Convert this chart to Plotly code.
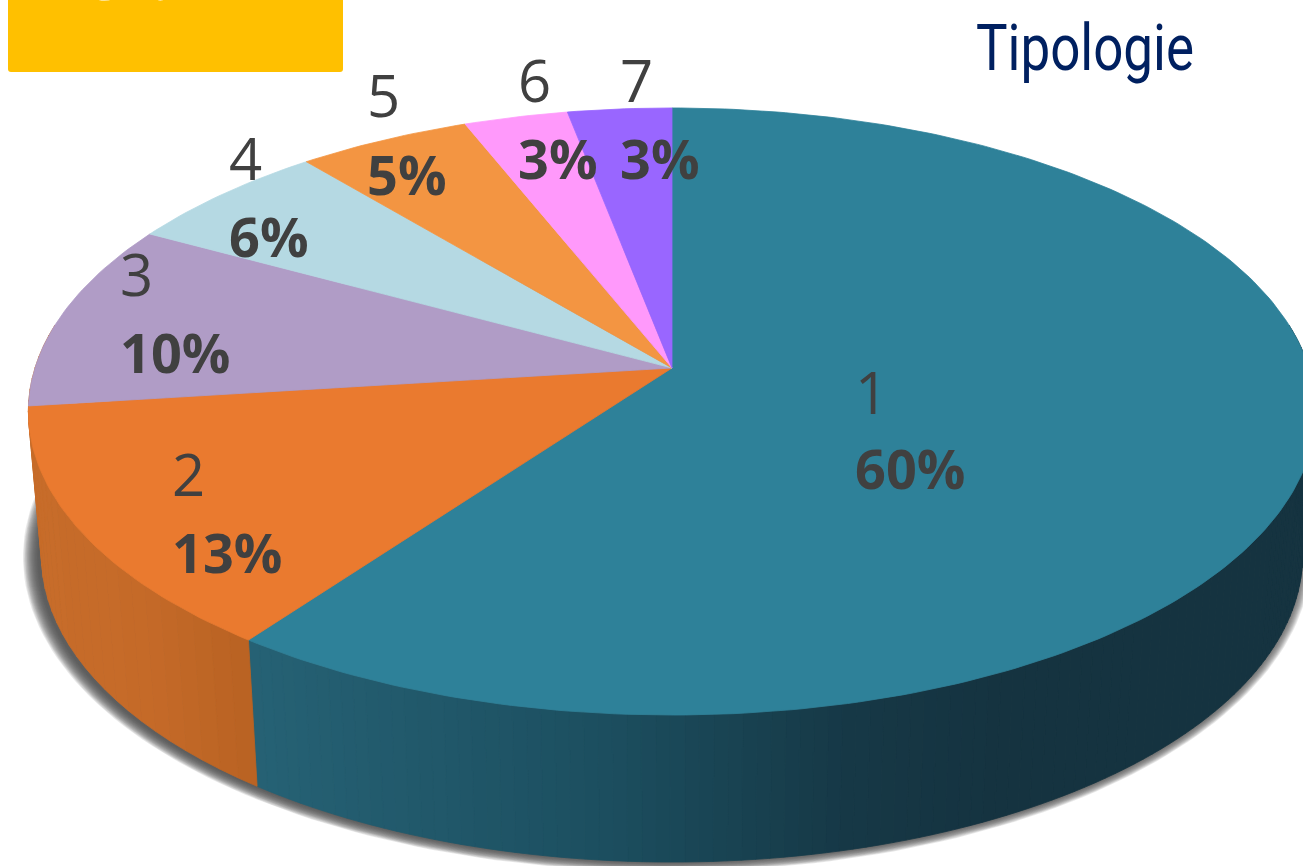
import numpy as np
import plotly.graph_objects as go

categories = ["1", "2", "3", "4", "5", "6", "7"]
values = [60, 13, 10, 6, 5, 3, 3]
top_colors = ["#2E8199", "#EA7A2F", "#B09CC6", "#B5D9E3", "#F39542", "#FF99FB", "#9966FF"]

title_text = "Tipologie"
badge_text = "25/04/22"

# label placement (left edge, centre of name line, centre of percent line)
label_x = [853, 170, 118, 227, 365, 516, 618]
name_y = [391, 473, 273, 157, 94, 79, 79]
pct_y = [468, 552, 352, 236, 174, 158, 158]

W, H = 1303, 866
K = 0.1433
TOP = dict(cx=672, apex=368, a=637, b=297.3)
LOW = dict(cx=672, apex=511.5, a=624, b=300.3)


def project(frac, g):
    t = np.asarray(frac) * 2 * np.pi
    u, v = np.sin(t), np.cos(t)
    w = 1 + K * v
    return g["cx"] + g["a"] * u / w, g["apex"] - g["b"] * v / w


def lerp_hex(stops, x):
    xs = [s[0] for s in stops]
    rgb = [np.interp(x, xs, [s[1][i] for s in stops]) for i in range(3)]
    return "rgb(%d,%d,%d)" % tuple(round(c) for c in rgb)


TEAL_SIDE = [(247, (38, 98, 117)), (600, (28, 79, 96)), (850, (22, 56, 70)), (1000, (21, 51, 64)), (1303, (21, 51, 64))]
ORANGE_SIDE = [(30, (199, 108, 42)), (150, (197, 106, 40)), (257, (184, 98, 34))]

fig = go.Figure()


def poly(xs, ys, fill, line=None, lw=0.8):
    fig.add_trace(go.Scatter(
        x=list(xs), y=list(ys), mode="lines", fill="toself", fillcolor=fill,
        line=dict(color=line or fill, width=lw), hoverinfo="skip", showlegend=False))


# drop shadow of the lower rim: soft edge built from thin translucent layers
theta = np.linspace(0, 2 * np.pi, 240)
for d in range(15, -1, -1):
    poly(667 + (629 + d) * np.cos(theta), 557 + (304 + d * 0.7) * np.sin(theta),
         "rgba(80,80,80,0.13)", "rgba(0,0,0,0)", 0)

# side wall
frac_edges = np.cumsum([0] + values) / sum(values)
right_limit = 81.5 / 360
left_limit = 278.5 / 360


def wall(f0, f1, stops, n):
    fs = np.linspace(f0, f1, n + 1)
    for a, b in zip(fs[:-1], fs[1:]):
        ff = np.linspace(a, b, 4)
        xt, yt = project(ff, TOP)
        xl, yl = project(ff, LOW)
        xs = np.concatenate([xt, xl[::-1], xt[:1]])
        ys = np.concatenate([yt, yl[::-1], yt[:1]])
        poly(xs, ys, lerp_hex(stops, float(xs.mean())))


wall(right_limit, frac_edges[1], TEAL_SIDE, 120)
wall(frac_edges[1], left_limit, ORANGE_SIDE, 30)

# top faces
for i, col in enumerate(top_colors):
    ff = np.linspace(frac_edges[i], frac_edges[i + 1], max(int(values[i] * 4), 12))
    xr, yr = project(ff, TOP)
    poly(np.concatenate([[TOP["cx"]], xr, [TOP["cx"]]]),
         np.concatenate([[TOP["apex"]], yr, [TOP["apex"]]]), col)

ann = []
for i, cat in enumerate(categories):
    ann.append(dict(x=label_x[i], y=name_y[i], text=cat, xanchor="left", yanchor="middle", showarrow=False,
                    font=dict(family="Open Sans", size=58, color="#404040")))
    ann.append(dict(x=label_x[i], y=pct_y[i], text="<b>%d%%</b>" % values[i], xanchor="left", yanchor="middle",
                    showarrow=False, font=dict(family="Open Sans", size=54, color="#404040")))
ann.append(dict(x=974, y=48, text=title_text, xanchor="left", yanchor="middle", showarrow=False,
                font=dict(family="Roboto", size=64, color="#002060")))
ann.append(dict(x=176, y=19, text=badge_text, xanchor="center", yanchor="bottom", showarrow=False,
                font=dict(family="Open Sans", size=57, color="#FFFFFF")))

fig.update_layout(
    width=W, height=H, margin=dict(l=0, r=0, t=0, b=0),
    paper_bgcolor="white", plot_bgcolor="white", showlegend=False,
    xaxis=dict(range=[0, W], visible=False, fixedrange=True),
    yaxis=dict(range=[H, 0], visible=False, fixedrange=True),
    annotations=ann,
    shapes=[dict(type="path", layer="below", fillcolor="#FFC000", line=dict(width=0),
                 path="M 8 -10 L 343 -10 L 343 69 Q 343 72 340 72 L 11 72 Q 8 72 8 69 Z")],
)

# the reference title is set in a condensed face: narrow the real text to its width
post = """
document.body.style.margin='0';document.body.style.overflow='hidden';
document.querySelectorAll('.annotation-text').forEach(function(t){
  if(t.textContent==='Tipologie'){
    var b=t.getBBox();
    var s=218/b.width;
    t.setAttribute('transform','translate('+b.x+',0) scale('+s+',1) translate('+(-b.x)+',0)');
  }
});
"""
fig.write_html("out.html", post_script=post, config={"displayModeBar": False})
